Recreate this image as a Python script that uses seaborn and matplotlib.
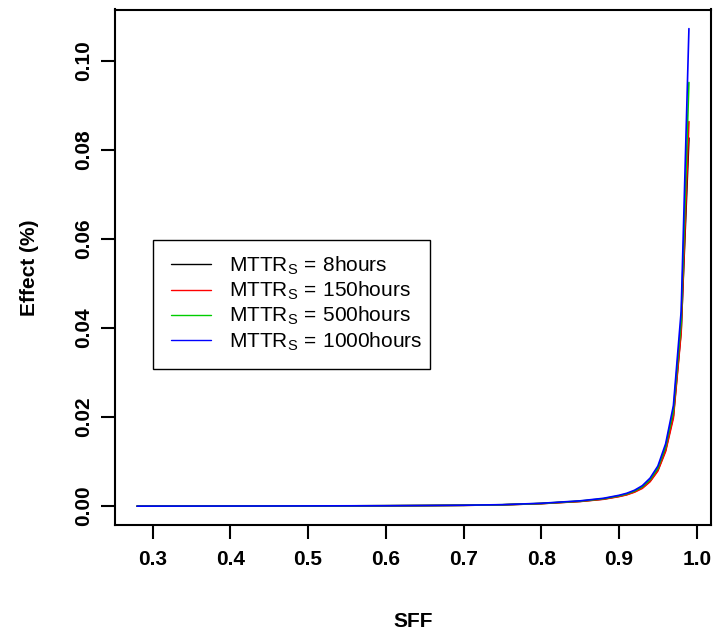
import matplotlib
matplotlib.use("Agg")
import matplotlib.pyplot as plt
import matplotlib.patches as mpatches
import seaborn as sns
import pandas as pd

sns.set_style("white")
plt.rcParams['font.family'] = ['Liberation Sans', 'DejaVu Sans']
plt.rcParams['mathtext.fontset'] = 'custom'
plt.rcParams['mathtext.rm'] = 'Liberation Sans'
plt.rcParams['mathtext.it'] = 'Liberation Sans:italic'
plt.rcParams['mathtext.bf'] = 'Liberation Sans:bold'
plt.rcParams['text.color'] = 'black'
plt.rcParams['axes.labelcolor'] = 'black'
plt.rcParams['xtick.color'] = 'black'
plt.rcParams['ytick.color'] = 'black'

# Data
sff = [0.28, 0.30, 0.35, 0.40, 0.45, 0.50, 0.55, 0.60, 0.65, 0.70, 0.75, 0.80,
       0.85, 0.88, 0.90, 0.91, 0.92, 0.93, 0.94, 0.95, 0.96, 0.97, 0.98, 0.99]
effect_8 = [0.00000, 0.00001, 0.00002, 0.00003, 0.00004, 0.00005, 0.00007, 0.00009,
            0.00013, 0.00019, 0.00030, 0.00058, 0.00108, 0.00160, 0.00222, 0.00262,
            0.00325, 0.00415, 0.00565, 0.00810, 0.01260, 0.02030, 0.03950, 0.08270]
effect_150 = [0.00000, 0.00001, 0.00002, 0.00003, 0.00004, 0.00005, 0.00007, 0.00009,
              0.00013, 0.00019, 0.00030, 0.00057, 0.00105, 0.00155, 0.00215, 0.00255,
              0.00315, 0.00400, 0.00550, 0.00790, 0.01230, 0.01980, 0.03900, 0.08640]
effect_500 = [0.00000, 0.00001, 0.00002, 0.00003, 0.00004, 0.00005, 0.00007, 0.00010,
              0.00014, 0.00020, 0.00032, 0.00061, 0.00114, 0.00168, 0.00232, 0.00275,
              0.00340, 0.00435, 0.00595, 0.00850, 0.01330, 0.02140, 0.04150, 0.09520]
effect_1000 = [0.00000, 0.00001, 0.00002, 0.00003, 0.00004, 0.00006, 0.00008, 0.00010,
               0.00015, 0.00021, 0.00034, 0.00065, 0.00120, 0.00177, 0.00244, 0.00290,
               0.00358, 0.00460, 0.00630, 0.00900, 0.01400, 0.02260, 0.04380, 0.10730]
series_labels = [r'MTTR$_{\rm S}$$\,=\,$8hours', r'MTTR$_{\rm S}$$\,=\,$150hours',
                 r'MTTR$_{\rm S}$$\,=\,$500hours', r'MTTR$_{\rm S}$$\,=\,$1000hours']
colors = ['black', 'red', '#00CD00', 'blue']
x_ticks = [0.3, 0.4, 0.5, 0.6, 0.7, 0.8, 0.9, 1.0]
y_ticks = [0.00, 0.02, 0.04, 0.06, 0.08, 0.10]

frames = []
for lab, vals in zip(series_labels, [effect_8, effect_150, effect_500, effect_1000]):
    frames.append(pd.DataFrame({'SFF': sff, 'Effect': vals, 'series': lab}))
df = pd.concat(frames, ignore_index=True)

W, H = 715, 632
fig = plt.figure(figsize=(7.15, 6.32), dpi=100)
ax = fig.add_axes([115/W, 1-525.3/H, 596/W, (525.3-9.5)/H])

sns.lineplot(data=df, x='SFF', y='Effect', hue='series', hue_order=series_labels,
             palette=colors, linewidth=1.2, ax=ax, legend=True, sort=False,
             estimator=None)

ax.set_xlim(0.2516, 1.0184)
ax.set_ylim(-0.0043, 0.1116)
ax.set_xticks(x_ticks)
ax.set_xticklabels([f"{t:.1f}" for t in x_ticks], fontsize=15, fontweight='bold')
ax.set_yticks(y_ticks)
ax.set_yticklabels([f"{t:.2f}" for t in y_ticks], fontsize=15, fontweight='bold',
                   rotation=90, va='center')
ax.tick_params(axis='both', direction='out', length=10, width=1.5, color='black',
               bottom=True, left=True)
ax.tick_params(axis='x', pad=8)
ax.tick_params(axis='y', pad=6)
for s in ax.spines.values():
    s.set_visible(True)
    s.set_color('black')
    s.set_linewidth(1.5)

ax.set_xlabel('SFF', fontsize=15, fontweight='bold', labelpad=31)
ax.set_ylabel('Effect (%)', fontsize=15, fontweight='bold', labelpad=25)

handles, labels = ax.get_legend_handles_labels()
leg = ax.legend(handles, labels, loc='upper left', bbox_to_anchor=(0.0638, 0.559),
                borderaxespad=0, fontsize=15, frameon=False,
                handlelength=1.92, handletextpad=0.9,
                borderpad=0.85, labelspacing=0.14)
for h in leg.get_lines():
    h.set_linewidth(1.0)

# legend box as drawn in the reference (tight right padding)
box = mpatches.Rectangle((153/W, 1-369/H), (430-153)/W, (369-240)/H,
                         transform=fig.transFigure, fill=False,
                         edgecolor='black', linewidth=1.0, zorder=5)
fig.patches.append(box)

fig.savefig('out.png', dpi=100)
